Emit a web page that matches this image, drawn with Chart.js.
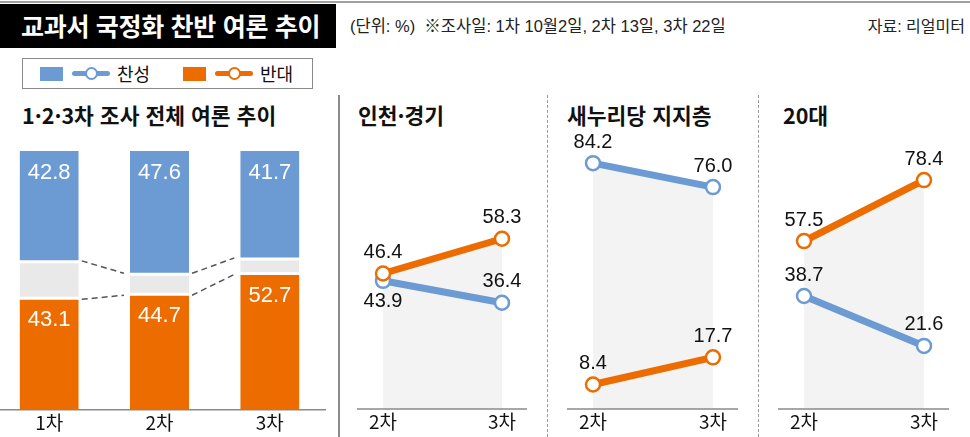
<!DOCTYPE html>
<html lang="ko">
<head>
<meta charset="utf-8">
<script src="https://cdn.jsdelivr.net/npm/chart.js@4.4.1/dist/chart.umd.min.js"></script>
<style>
  html, body { margin: 0; padding: 0; background: #fff; }
  body { width: 970px; height: 437px; position: relative; overflow: hidden;
         font-family: "Liberation Sans", "Noto Sans CJK KR", sans-serif; color: #111; }
  .abs { position: absolute; }
  #topline { left: 0; top: 1px; width: 970px; height: 2px; background: #a0a0a0; }
  #title { left: 0; top: 4px; width: 336px; height: 44px; background: #000; color: #fff;
           font-family: "Noto Sans CJK KR", sans-serif; font-weight: bold; font-size: 25px;
           line-height: 43px; padding-left: 21px; box-sizing: border-box; letter-spacing: -0.3px; }
  #sub { left: 350px; top: 13px; font-size: 16.5px; color: #222; white-space: nowrap; }
  #src { right: 5px; top: 13px; font-size: 16px; color: #222; white-space: nowrap; }
  #legend { left: 22px; top: 58px; width: 291px; height: 31px; border: 1px solid #8a8a8a; box-sizing: border-box; }
  .sq { position: absolute; top: 8px; width: 23px; height: 14px; }
  .ln { position: absolute; top: 12px; width: 38px; height: 5px; border-radius: 3px; }
  .dot { position: absolute; top: 8px; width: 9px; height: 9px; border-radius: 50%; background: #fff; border-width: 2px; border-style: solid; }
  .lt { position: absolute; top: 2px; font-size: 18px; font-family: "Noto Sans CJK KR", sans-serif; line-height: 24px; }
  .ptitle { font-family: "Noto Sans CJK KR", sans-serif; font-weight: bold; font-size: 21.5px; top: 99px; white-space: nowrap; }
  .vsep { top: 95px; height: 342px; width: 0; }
  canvas { position: absolute; }
</style>
</head>
<body>
<div id="topline" class="abs"></div>
<div id="title" class="abs">교과서 국정화 찬반 여론 추이</div>
<div id="sub" class="abs">(단위: %) &nbsp;※조사일: 1차 10월2일, 2차 13일, 3차 22일</div>
<div id="src" class="abs">자료: 리얼미터</div>
<div id="legend" class="abs"></div>

<div class="abs ptitle" style="left:22px">1·2·3차 조사 전체 여론 추이</div>
<div class="abs ptitle" style="left:358px">인천·경기</div>
<div class="abs ptitle" style="left:567px">새누리당 지지층</div>
<div class="abs ptitle" style="left:783px">20대</div>

<div class="abs vsep" style="left:338px; border-left:2px solid #8a8a8a"></div>
<div class="abs vsep" style="left:547px; border-left:1.5px dashed #9a9a9a"></div>
<div class="abs vsep" style="left:758px; border-left:1.5px dashed #9a9a9a"></div>

<canvas id="barChart" style="left:-6px; top:90px; width:338px; height:347px"></canvas>
<canvas id="line1" style="left:339px; top:90px; width:207px; height:347px"></canvas>
<canvas id="line2" style="left:549px; top:90px; width:208px; height:347px"></canvas>
<canvas id="line3" style="left:760px; top:90px; width:208px; height:347px"></canvas>

<script>
// 전체 조사 (1·2·3차)
var surveyLabels = ['1차', '2차', '3차'];
var totalFor     = [42.8, 47.6, 41.7];
var totalAgainst = [43.1, 44.7, 52.7];
var totalOther   = [14.1, 7.7, 5.6];

// 2차 / 3차 비교 패널
var pairLabels = ['2차', '3차'];
var incheonFor     = [43.9, 36.4];
var incheonAgainst = [46.4, 58.3];
var saenuriFor     = [84.2, 76.0];
var saenuriAgainst = [8.4, 17.7];
var twentiesFor     = [38.7, 21.6];
var twentiesAgainst = [57.5, 78.4];

var BLUE = '#6b9bd2';
var ORANGE = '#ec6c00';
var GRAY = '#e9e9e9';
var FILL = '#f3f3f3';
var NUMFONT = '"Liberation Sans", Arial, sans-serif';
var KRFONT = '"Noto Sans CJK KR", sans-serif';

// 범례
(function () {
  var lg = document.getElementById('legend');
  var items = [{ t: '찬성', c: BLUE, x: 17 }, { t: '반대', c: ORANGE, x: 160 }];
  items.forEach(function (it) {
    lg.insertAdjacentHTML('beforeend',
      '<div class="sq" style="left:' + it.x + 'px;background:' + it.c + '"></div>' +
      '<div class="ln" style="left:' + (it.x + 32) + 'px;background:' + it.c + '"></div>' +
      '<div class="dot" style="left:' + (it.x + 45) + 'px;border-color:' + it.c + '"></div>' +
      '<div class="lt" style="left:' + (it.x + 77) + 'px">' + it.t + '</div>');
  });
})();

// 막대 위 값 + 점선 연결
var barExtras = {
  id: 'barExtras',
  afterDatasetsDraw: function (chart) {
    var ctx = chart.ctx;
    var against = chart.getDatasetMeta(0).data;
    var other = chart.getDatasetMeta(1).data;
    var pro = chart.getDatasetMeta(2).data;

    ctx.save();
    ctx.strokeStyle = '#555';
    ctx.lineWidth = 1.5;
    ctx.setLineDash([6, 4]);
    for (var i = 0; i < other.length - 1; i++) {
      var a = other[i], b = other[i + 1];
      var x1 = a.x + a.width / 2 + 3, x2 = b.x - b.width / 2 - 6;
      ctx.beginPath(); ctx.moveTo(x1, a.y - 1); ctx.lineTo(x2, b.y - 1); ctx.stroke();
      ctx.beginPath(); ctx.moveTo(x1, a.base + 1); ctx.lineTo(x2, b.base + 1); ctx.stroke();
    }
    ctx.setLineDash([]);

    ctx.fillStyle = '#fff';
    ctx.font = '22px ' + NUMFONT;
    ctx.textAlign = 'center';
    ctx.textBaseline = 'middle';
    [[pro, totalFor], [against, totalAgainst]].forEach(function (pair) {
      pair[0].forEach(function (el, j) {
        ctx.fillText(pair[1][j].toFixed(1), el.x, el.y + 22);
      });
    });
    ctx.restore();
  }
};

new Chart(document.getElementById('barChart'), {
  type: 'bar',
  data: {
    labels: surveyLabels,
    datasets: [
      { label: '반대', data: totalAgainst, backgroundColor: ORANGE, borderColor: '#fff',
        borderWidth: { top: 1.5, bottom: 0, left: 0, right: 0 }, borderSkipped: false },
      { label: '기타', data: totalOther, backgroundColor: GRAY, borderColor: '#fff',
        borderWidth: { top: 1.5, bottom: 1.5, left: 0, right: 0 }, borderSkipped: false },
      { label: '찬성', data: totalFor, backgroundColor: BLUE, borderColor: '#fff',
        borderWidth: { top: 0, bottom: 1.5, left: 0, right: 0 }, borderSkipped: false }
    ]
  },
  options: {
    responsive: false,
    animation: false,
    events: [],
    layout: { padding: { left: 0, right: 7, top: 61, bottom: 0 } },
    datasets: { bar: { categoryPercentage: 1, barPercentage: 0.536 } },
    plugins: { legend: { display: false }, tooltip: { enabled: false } },
    scales: {
      x: {
        stacked: true,
        grid: { display: false, drawTicks: false },
        border: { display: true, color: '#8a8a8a', width: 1.5 },
        ticks: { color: '#111', font: { size: 19, family: KRFONT }, padding: 1 },
        afterFit: function (s) { s.height = 27; }
      },
      y: { stacked: true, display: false, min: 0, max: 100 }
    }
  },
  plugins: [barExtras]
});

// 선 그래프: 값 표시 + 기준선
var lineExtras = {
  id: 'lineExtras',
  beforeDatasetsDraw: function (chart) {
    var ctx = chart.ctx, ca = chart.chartArea;
    ctx.save();
    ctx.strokeStyle = '#8a8a8a';
    ctx.lineWidth = 1.5;
    ctx.beginPath();
    ctx.moveTo(ca.left - 26, ca.bottom);
    ctx.lineTo(ca.right + 25, ca.bottom);
    ctx.stroke();
    ctx.restore();
  },
  afterDatasetsDraw: function (chart) {
    var ctx = chart.ctx;
    var ds = chart.data.datasets;
    ctx.save();
    ctx.fillStyle = '#111';
    ctx.font = '20px ' + NUMFONT;
    ctx.textAlign = 'center';
    ctx.textBaseline = 'middle';
    ds.forEach(function (d, di) {
      var other = ds[1 - di].data;
      chart.getDatasetMeta(di).data.forEach(function (pt, j) {
        var v = d.data[j];
        var below = other[j] > v && other[j] - v < 8;
        ctx.fillText(v.toFixed(1), pt.x, below ? pt.y + 21 : pt.y - 21);
      });
    });
    ctx.restore();
  }
};

function makeLine(id, pro, against) {
  var upperIsAgainst = against[0] + against[1] > pro[0] + pro[1];
  function series(label, data, color, upper) {
    return {
      label: label, data: data,
      borderColor: color, borderWidth: 7,
      backgroundColor: FILL,
      fill: upper ? 'origin' : false,
      tension: 0,
      pointRadius: 7, pointBorderWidth: 2.5,
      pointBackgroundColor: '#fff', pointBorderColor: color,
      clip: false
    };
  }
  new Chart(document.getElementById(id), {
    type: 'line',
    data: {
      labels: pairLabels,
      datasets: [
        series('반대', against, ORANGE, upperIsAgainst),
        series('찬성', pro, BLUE, !upperIsAgainst)
      ]
    },
    options: {
      responsive: false,
      animation: false,
      events: [],
      layout: { padding: { left: 44, right: 44, top: 27, bottom: 0 } },
      plugins: {
        legend: { display: false }, tooltip: { enabled: false },
        filler: { drawTime: 'beforeDatasetsDraw' }
      },
      scales: {
        x: {
          offset: false,
          grid: { display: false, drawTicks: false },
          border: { display: false },
          ticks: { color: '#111', font: { size: 19, family: KRFONT }, padding: 1, maxRotation: 0, autoSkip: false },
          afterFit: function (s) { s.height = 28; }
        },
        y: { display: false, min: 0, max: 100 }
      }
    },
    plugins: [lineExtras]
  });
}

makeLine('line1', incheonFor, incheonAgainst);
makeLine('line2', saenuriFor, saenuriAgainst);
makeLine('line3', twentiesFor, twentiesAgainst);
</script>
</body>
</html>
